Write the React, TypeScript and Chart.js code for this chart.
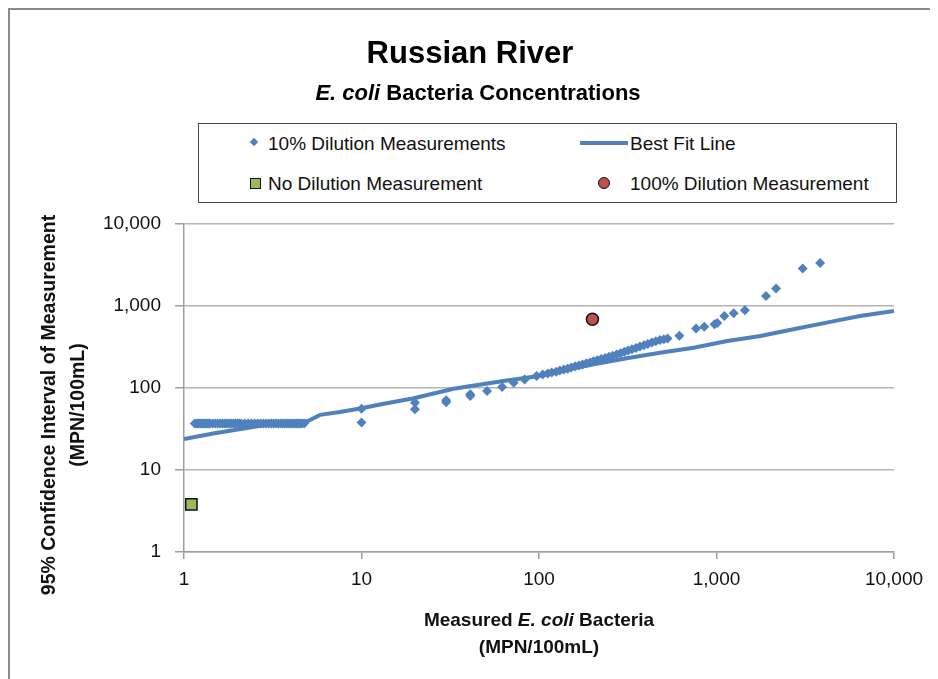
import React, { useEffect, useRef } from "react";
import { Chart, registerables } from "chart.js";

Chart.register(...registerables);

const tickValues = [1, 10, 100, 1000, 10000];

const dilution10X = [
  1.15, 1.18, 1.2, 1.23, 1.25, 1.28, 1.3, 1.33, 1.35, 1.38, 1.4, 1.45, 1.5, 1.55, 1.6, 1.65, 1.7, 1.75, 1.8, 1.85, 1.9, 1.95, 2.0, 2.05, 2.1, 2.2, 2.3, 2.4, 2.5, 2.6, 2.7, 2.8, 2.9, 3.0, 3.1, 3.2, 3.3, 3.4, 3.5, 3.6, 3.7, 3.8, 3.9, 4.0, 4.1, 4.2, 4.3, 4.4, 4.5, 4.6, 4.75,
  10, 10, 20, 20, 30, 30, 41, 41, 51, 62, 72, 83, 97,
  105, 112, 118, 125, 131, 138, 145, 152, 160, 168, 176, 185, 194, 203, 213, 224, 236, 248, 260, 274, 288, 303, 318, 334, 352, 370, 390, 410, 432, 455, 480, 505, 530,
  618, 767, 853, 975, 1010, 1107, 1250, 1445, 1900, 2165, 3060, 3835,
];
const dilution10Y = [
  37, 37, 37, 37, 37, 37, 37, 37, 37, 37, 37, 37, 37, 37, 37, 37, 37, 37, 37, 37, 37, 37, 37, 37, 37, 37, 37, 37, 37, 37, 37, 37, 37, 37, 37, 37, 37, 37, 37, 37, 37, 37, 37, 37, 37, 37, 37, 37, 37, 37, 37,
  56, 38, 66, 55, 67, 71, 80, 84, 92, 103, 116, 127, 140,
  146, 150, 155, 158, 163, 168, 172, 178, 184, 188, 194, 200, 205, 212, 218, 226, 232, 240, 248, 256, 266, 276, 286, 296, 308, 320, 333, 345, 358, 372, 384, 392, 402,
  435, 530, 560, 597, 620, 757, 815, 887, 1327, 1634, 2860, 3335,
];

const fitX = [1, 1.46, 2.26, 3.33, 5, 5.84, 7.56, 10, 12.7, 19.7, 33, 63, 100, 131, 203, 312, 480, 743, 1150, 1770, 2710, 4170, 6430, 10000];
const fitY = [23.8, 27.8, 32.6, 37.5, 39.5, 47, 51, 56.5, 63, 75, 98, 122, 140, 161, 194, 230, 269, 310, 374, 430, 520, 627, 755, 870];

const noDilutionX = [1.1];
const noDilutionY = [3.8];

const fullDilutionX = [200];
const fullDilutionY = [690];

const BLUE = "#4F81BD";
const GREEN = "#9BBB59";
const RED = "#C0504D";
const FONT = "'Liberation Sans', Arial, sans-serif";

const zip = (xs: number[], ys: number[]) => xs.map((x, i) => ({ x, y: ys[i] }));

export default function App() {
  const ref = useRef<HTMLCanvasElement | null>(null);

  useEffect(() => {
    if (!ref.current) return;
    const fixTicks = (scale: any) => {
      scale.ticks = tickValues.map((v) => ({ value: v }));
    };
    const chart = new Chart(ref.current, {
      type: "scatter",
      data: {
        datasets: [
          {
            label: "10% Dilution Measurements",
            data: zip(dilution10X, dilution10Y),
            pointStyle: "rectRot",
            pointRadius: 5,
            pointBackgroundColor: BLUE,
            pointBorderColor: BLUE,
            pointBorderWidth: 0,
            showLine: false,
          },
          {
            label: "Best Fit Line",
            data: zip(fitX, fitY),
            showLine: true,
            borderColor: BLUE,
            borderWidth: 4,
            pointRadius: 0,
            tension: 0,
          },
          {
            label: "No Dilution Measurement",
            data: zip(noDilutionX, noDilutionY),
            pointStyle: "rect",
            pointRadius: 8,
            pointBackgroundColor: GREEN,
            pointBorderColor: "#111",
            pointBorderWidth: 1.5,
            showLine: false,
          },
          {
            label: "100% Dilution Measurement",
            data: zip(fullDilutionX, fullDilutionY),
            pointStyle: "circle",
            pointRadius: 6,
            pointBackgroundColor: RED,
            pointBorderColor: "#111",
            pointBorderWidth: 1.5,
            showLine: false,
          },
        ],
      },
      options: {
        responsive: false,
        animation: false,
        layout: { padding: { top: 216, right: 44, left: 0, bottom: 0 } },
        plugins: { legend: { display: false }, tooltip: { enabled: false }, title: { display: false } },
        scales: {
          x: {
            type: "logarithmic",
            min: 1,
            max: 10000,
            afterBuildTicks: fixTicks,
            afterFit: (s: any) => {
              s.height = 127;
            },
            grid: { display: true, drawOnChartArea: false, drawTicks: true, tickLength: 7, tickColor: "#9d9d9d", lineWidth: 1.5 },
            border: { display: true, color: "#9d9d9d", width: 1.5 },
            ticks: {
              padding: 9,
              color: "#111",
              font: { family: FONT, size: 19 },
              maxRotation: 0,
              autoSkip: false,
              callback: (v: any) => Number(v).toLocaleString("en-US"),
            },
          },
          y: {
            type: "logarithmic",
            min: 1,
            max: 10000,
            afterBuildTicks: fixTicks,
            afterFit: (s: any) => {
              s.width = 176;
            },
            grid: { display: true, color: "#b4b4b4", lineWidth: 1.5, drawTicks: true, tickLength: 9, tickColor: "#9d9d9d" },
            border: { display: true, color: "#9d9d9d", width: 1.5 },
            ticks: {
              padding: 14,
              color: "#111",
              font: { family: FONT, size: 19 },
              autoSkip: false,
              callback: (v: any) => Number(v).toLocaleString("en-US"),
            },
          },
        },
      },
    });
    return () => chart.destroy();
  }, []);

  const abs = (style: React.CSSProperties): React.CSSProperties => ({ position: "absolute", ...style });
  const legendText: React.CSSProperties = { fontSize: 19, lineHeight: "19px", color: "#111", whiteSpace: "nowrap" };

  return (
    <div style={{ position: "relative", width: 930, height: 671, overflow: "hidden", fontFamily: FONT, background: "#fff" }}>
      <canvas ref={ref} width={930} height={671} style={{ position: "absolute", left: 0, top: 0, width: 930, height: 671 }} />
      <div style={abs({ left: 0, top: 0, width: 930, height: 2, background: "#8a8a8a" })} />
      <div style={abs({ left: 0, top: 0, width: 2, height: 671, background: "#8a8a8a" })} />

      <div style={abs({ left: 462, top: 29, transform: "translateX(-50%)", fontSize: 31, lineHeight: "31px", fontWeight: "bold", whiteSpace: "nowrap", color: "#000" })}>
        Russian River
      </div>
      <div style={abs({ left: 470, top: 74, transform: "translateX(-50%)", fontSize: 22, lineHeight: "22px", fontWeight: "bold", whiteSpace: "nowrap", color: "#000" })}>
        <i>E. coli</i> Bacteria Concentrations
      </div>

      <div style={abs({ left: 190, top: 115, width: 699, height: 80, boxSizing: "border-box", border: "1px solid #444", background: "#fff" })} />
      <div style={abs({ left: 243, top: 131, width: 6, height: 6, background: BLUE, transform: "rotate(45deg)" })} />
      <div style={abs({ left: 260, top: 125.5, ...legendText })}>10% Dilution Measurements</div>
      <div style={abs({ left: 572, top: 133, width: 48, height: 4, background: BLUE })} />
      <div style={abs({ left: 622, top: 125.5, ...legendText })}>Best Fit Line</div>
      <div style={abs({ left: 241.5, top: 169.5, width: 11, height: 11, boxSizing: "border-box", background: GREEN, border: "1.5px solid #111" })} />
      <div style={abs({ left: 260, top: 165.5, ...legendText })}>No Dilution Measurement</div>
      <div style={abs({ left: 590, top: 169, width: 12, height: 12, boxSizing: "border-box", borderRadius: "50%", background: RED, border: "1.5px solid #111" })} />
      <div style={abs({ left: 622, top: 165.5, ...legendText })}>100% Dilution Measurement</div>

      <div
        style={abs({
          left: 54.5 - 220,
          top: 397 - 29,
          width: 440,
          height: 58,
          transform: "rotate(-90deg)",
          transformOrigin: "50% 50%",
          textAlign: "center",
          fontSize: 19.5,
          lineHeight: "29px",
          fontWeight: "bold",
          color: "#111",
          whiteSpace: "nowrap",
        })}
      >
        95% Confidence Interval of Measurement
        <br />
        (MPN/100mL)
      </div>

      <div style={abs({ left: 531, top: 598, transform: "translateX(-50%)", textAlign: "center", fontSize: 19, lineHeight: "27px", fontWeight: "bold", color: "#111", whiteSpace: "nowrap" })}>
        Measured <i>E. coli</i> Bacteria
        <br />
        (MPN/100mL)
      </div>
    </div>
  );
}
